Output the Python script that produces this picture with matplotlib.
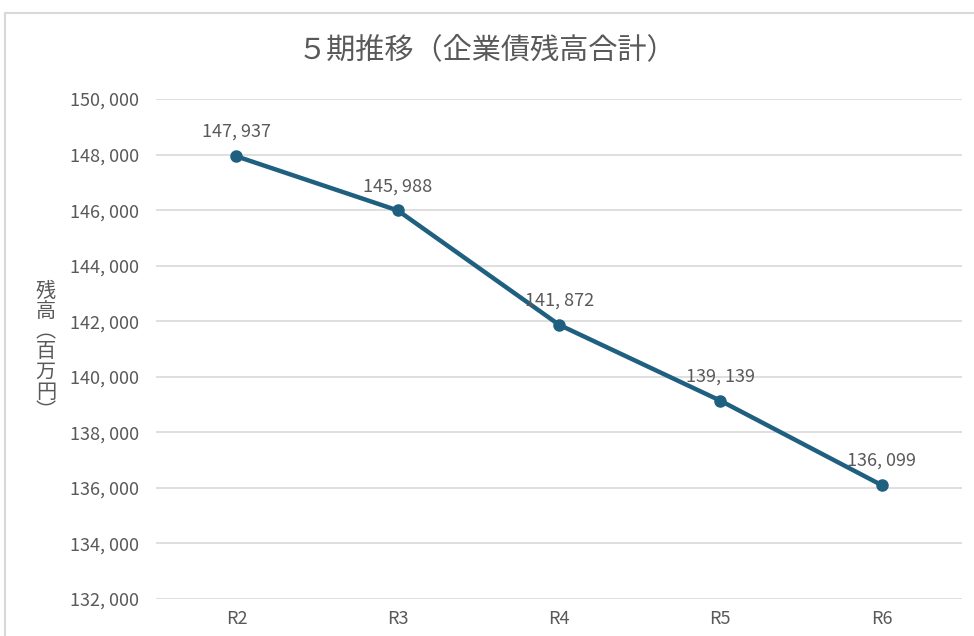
import matplotlib.pyplot as plt
from matplotlib.patches import Rectangle
from matplotlib.ticker import FuncFormatter

plt.rcParams['font.family'] = ['Noto Sans CJK JP', 'DejaVu Sans']

# Données
periods = ['R2', 'R3', 'R4', 'R5', 'R6']
balances = [147937, 145988, 141872, 139139, 136099]
y_ticks = list(range(132000, 150001, 2000))

grey = '#595959'
line_col = '#1f5f80'

fig = plt.figure(figsize=(9.74, 6.36), dpi=100)
ax = fig.add_axes([0.160, 0.0582, 0.828, 0.7861])

x = range(len(periods))
ax.plot(x, balances, color=line_col, lw=3.2, marker='o', ms=8, zorder=3)
for xi, v in zip(x, balances):
    ax.annotate(f"{v:,}".replace(",", ", "), (xi, v), xytext=(0, 11),
                textcoords='offset points', ha='center', va='bottom',
                fontsize=13, color=grey)

ax.set_xlim(-0.5, len(periods) - 0.5)
ax.set_ylim(132000, 150000)
ax.set_yticks(y_ticks)
ax.yaxis.set_major_formatter(FuncFormatter(lambda v, p: f"{int(v):,}".replace(",", ", ")))
ax.set_xticks(list(x))
ax.set_xticklabels(periods)
ax.tick_params(axis='both', length=0, labelsize=13, labelcolor=grey)
ax.tick_params(axis='y', pad=12)
ax.tick_params(axis='x', pad=8)
ax.grid(axis='y', color='#d9d9d9', lw=1.2)
ax.set_axisbelow(True)
for s in ax.spines.values():
    s.set_visible(False)

fig.text(0.5, 0.921, "５期推移（企業債残高合計）", ha='center', va='center',
         fontsize=21, color=grey)
fig.text(0.047, 0.447, "\n".join("残高︵百万円︶"), ha='center', va='center',
         fontsize=14.5, color=grey, linespacing=0.95)

# cadre du graphique
fig.patches.append(Rectangle((5 / 974, -0.1), 1.0, 1 - 13 / 636 + 0.1,
                             transform=fig.transFigure, fill=False,
                             edgecolor='#d9d9d9', lw=1.5))

fig.savefig('out.png', dpi=100)
